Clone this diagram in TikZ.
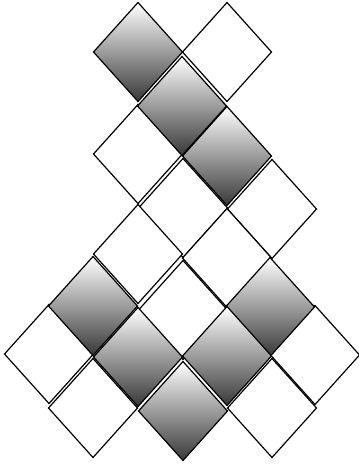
\documentclass[tikz,border=0pt]{standalone}
\tikzset{
	tilew/.style={draw=black, fill=white, line width=1.2pt},
	tileg/.style={draw=black, top color=white, middle color=black!22,
		bottom color=black!78, line width=1.2pt}
}
% one rotated square, centred at (#2,#3)
\newcommand{\rhomb}[3]{%
	\path[#1] (#2,#3) ++(0,-49.5) -- ++(44.5,49.5) -- ++(-44.5,49.5) -- ++(-44.5,-49.5) -- cycle;}

\begin{document}
\begin{tikzpicture}[x=1pt, y=-1pt]
	\useasboundingbox (0,0) rectangle (359,464);
	% white tiles
	\foreach \cx/\cy in {227/52, 138/154, 183/208, 272/209, 138/254, 227/258,
		183/310, 49/354, 315/355, 93/408, 272/408}
		\rhomb{tilew}{\cx}{\cy};
	% shaded tiles
	\foreach \cx/\cy in {138/52, 182/106, 227/156, 93/306, 270/307,
		138/357, 227/356, 183/411}
		\rhomb{tileg}{\cx}{\cy};
\end{tikzpicture}
\end{document}
